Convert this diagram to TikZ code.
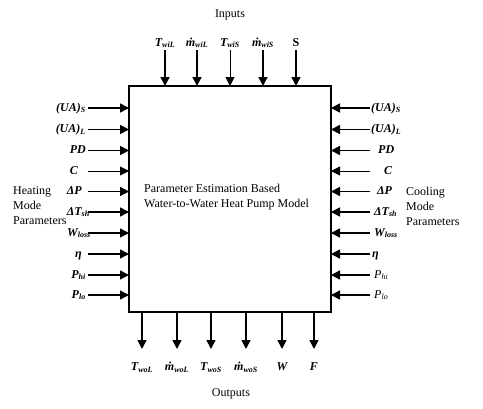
\documentclass[tikz,border=0pt]{standalone}
\usepackage{fontspec}
\setmainfont{Liberation Serif}
\usetikzlibrary{arrows.meta,positioning}

\newcommand{\mflow}{\.m}

\begin{document}
\begin{tikzpicture}[x=1pt, y=-1pt,
    font=\fontsize{12}{15}\selectfont,
    plbl/.style={font=\fontsize{12}{15}\selectfont\bfseries\itshape, inner sep=0pt, text height=9pt, text depth=3pt},
    parr/.style={-{Triangle[length=9pt,width=9pt]}, line width=1.6pt},
    parrthin/.style={parr, line width=0.8pt}]
    \useasboundingbox (0,0) rectangle (483,408);

    % Model block
    \node[draw, line width=1.6pt, inner sep=0pt, outer sep=0pt, minimum width=202pt, minimum height=226pt, anchor=north west] (box) at (129,86) {};
    \node[align=left, anchor=west, inner sep=1pt] (model) at (143,197) {Parameter Estimation Based\\Water-to-Water Heat Pump Model};

    % Inputs
    \node (inputs) at (230,15) {Inputs};
    \node[plbl, anchor=base] (iTwiL) at (165,46) {T\textsubscript{wiL}};
    \node[plbl, anchor=base] (imwiL) at (197,46) {\mflow\textsubscript{wiL}};
    \node[plbl, anchor=base] (iTwiS) at (230,46) {T\textsubscript{wiS}};
    \node[plbl, anchor=base] (imwiS) at (263,46) {\mflow\textsubscript{wiS}};
    \node[plbl, anchor=base, font=\fontsize{12}{15}\selectfont\bfseries] (iS) at (296,46) {S};
    \draw[parr] ([yshift=-1pt]iTwiL.south) -- (iTwiL.south |- box.north);
    \draw[parr] ([yshift=-1pt]imwiL.south) -- (imwiL.south |- box.north);
    \draw[parrthin] ([yshift=-1pt]iTwiS.south) -- (iTwiS.south |- box.north);
    \draw[parr] ([yshift=-1pt]imwiS.south) -- (imwiS.south |- box.north);
    \draw[parr] ([yshift=-1pt]iS.south) -- (iS.south |- box.north);

    % Heating mode parameters
    \coordinate (hline) at (88,0);
    \node[align=left, anchor=west, inner sep=1pt] (heating) at (12,206) {Heating\\Mode\\Parameters};
    \node[plbl, anchor=east] (hUAS) at (86,108) {(UA)\textsubscript{S}};
    \node[plbl, anchor=east] (hUAL) at (86,129.5) {(UA)\textsubscript{L}};
    \node[plbl, anchor=east] (hPD) at (86,150.5) {PD};
    \node[plbl, anchor=east] (hC) at (78,171) {C};
    \node[plbl, anchor=east] (hdP) at (82,191.5) {ΔP};
    \node[plbl, anchor=east] (hdT) at (90,212) {ΔT\textsubscript{sh}};
    \node[plbl, anchor=east] (hW) at (91,233) {W\textsubscript{loss}};
    \node[plbl, anchor=east] (heta) at (82,254) {η};
    \node[plbl, anchor=east] (hPhi) at (86,275) {P\textsubscript{hi}};
    \node[plbl, anchor=east] (hPlo) at (86,295) {P\textsubscript{lo}};
    \draw[parr] (hline |- hUAS.east) -- (hUAS.east -| box.west);
    \draw[parr] (hline |- hUAL.east) -- (hUAL.east -| box.west);
    \draw[parr] (hline |- hPD.east) -- (hPD.east -| box.west);
    \draw[parrthin] (hline |- hC.east) -- (hC.east -| box.west);
    \draw[parr] (hline |- hdP.east) -- (hdP.east -| box.west);
    \draw[parr] (hline |- hdT.east) -- (hdT.east -| box.west);
    \draw[parr] (hline |- hW.east) -- (hW.east -| box.west);
    \draw[parr] (hline |- heta.east) -- (heta.east -| box.west);
    \draw[parr] (hline |- hPhi.east) -- (hPhi.east -| box.west);
    \draw[parr] (hline |- hPlo.east) -- (hPlo.east -| box.west);

    % Cooling mode parameters
    \coordinate (cline) at (370,0);
    \node[align=left, anchor=west, inner sep=1pt] (cooling) at (405,206) {Cooling\\Mode\\Parameters};
    \node[plbl, anchor=west] (cUAS) at (371,108) {(UA)\textsubscript{S}};
    \node[plbl, anchor=west] (cUAL) at (371,129.5) {(UA)\textsubscript{L}};
    \node[plbl, anchor=west] (cPD) at (378,150.5) {PD};
    \node[plbl, anchor=west] (cC) at (384,171) {C};
    \node[plbl, anchor=west] (cdP) at (377,191.5) {ΔP};
    \node[plbl, anchor=west] (cdT) at (374,212) {ΔT\textsubscript{sh}};
    \node[plbl, anchor=west] (cW) at (374,233) {W\textsubscript{loss}};
    \node[plbl, anchor=west] (ceta) at (372,254) {η};
    \node[plbl, anchor=west, font=\fontsize{12}{15}\selectfont\itshape] (cPhi) at (374,275) {P\textsubscript{hi}};
    \node[plbl, anchor=west, font=\fontsize{12}{15}\selectfont\itshape] (cPlo) at (374,295) {P\textsubscript{lo}};
    \draw[parr] (cline |- cUAS.west) -- (cUAS.west -| box.east);
    \draw[parr] (cline |- cUAL.west) -- (cUAL.west -| box.east);
    \draw[parr] (cline |- cPD.west) -- (cPD.west -| box.east);
    \draw[parrthin] (cline |- cC.west) -- (cC.west -| box.east);
    \draw[parr] (cline |- cdP.west) -- (cdP.west -| box.east);
    \draw[parr] (cline |- cdT.west) -- (cdT.west -| box.east);
    \draw[parr] (cline |- cW.west) -- (cW.west -| box.east);
    \draw[parr] (cline |- ceta.west) -- (ceta.west -| box.east);
    \draw[parr] (cline |- cPhi.west) -- (cPhi.west -| box.east);
    \draw[parr] (cline |- cPlo.west) -- (cPlo.west -| box.east);

    % Outputs
    \coordinate (oTwoL-tip) at (142,349);
    \coordinate (omwoL-tip) at (177,349);
    \coordinate (oTwoS-tip) at (211,349);
    \coordinate (omwoS-tip) at (246,349);
    \coordinate (oW-tip) at (282,349);
    \coordinate (oF-tip) at (314,349);
    \node[plbl, below=12pt of oTwoL-tip] (oTwoL) {T\textsubscript{woL}};
    \node[plbl, below=12pt of omwoL-tip] (omwoL) {\mflow\textsubscript{woL}};
    \node[plbl, below=12pt of oTwoS-tip] (oTwoS) {T\textsubscript{woS}};
    \node[plbl, below=12pt of omwoS-tip] (omwoS) {\mflow\textsubscript{woS}};
    \node[plbl, below=12pt of oW-tip] (oW) {W};
    \node[plbl, below=12pt of oF-tip] (oF) {F};
    \draw[parr] (oTwoL-tip |- box.south) -- (oTwoL-tip);
    \draw[parr] (omwoL-tip |- box.south) -- (omwoL-tip);
    \draw[parr] (oTwoS-tip |- box.south) -- (oTwoS-tip);
    \draw[parr] (omwoS-tip |- box.south) -- (omwoS-tip);
    \draw[parr] (oW-tip |- box.south) -- (oW-tip);
    \draw[parr] (oF-tip |- box.south) -- (oF-tip);
    \node (outputs) at (231,394) {Outputs};

\end{tikzpicture}
\end{document}
